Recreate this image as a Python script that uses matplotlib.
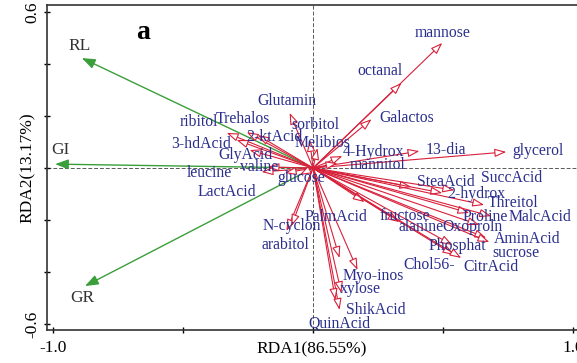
import matplotlib
matplotlib.use('Agg')
import matplotlib.pyplot as plt

plt.rcParams['font.family'] = ['Liberation Serif', 'DejaVu Serif']

# Metabolite loadings (RDA1, RDA2)
species = ['mannose', 'octanal', 'Galactos', '13-dia', 'glycerol', '4-Hydrox',
           'mannitol', 'sorbitol', 'Glutamin', 'Melibios', 'Trehalos', 'ribitol',
           '2-ktAcid', '3-hdAcid', 'GlyAcid', 'valine', 'leucine', 'LactAcid',
           'glucose', 'N-cyclon', 'arabitol', 'PalmAcid', 'Myo-inos', 'xylose',
           'ShikAcid', 'QuinAcid', 'SteaAcid', 'SuccAcid', '2-hydrox', 'Threitol',
           'Proline', 'MalcAcid', 'alanine', 'Oxoproln', 'fructose', 'Phosphat',
           'AminAcid', 'sucrose', 'Chol56-', 'CitrAcid']
rda1 = [0.497, 0.340, 0.225, 0.409, 0.743, 0.113,
        0.094, -0.013, -0.090, 0.017, -0.255, -0.332,
        -0.213, -0.294, -0.244, -0.175, -0.198, -0.109,
        -0.052, -0.102, -0.083, 0.102, 0.171, 0.109,
        0.102, 0.086, 0.378, 0.543, 0.497, 0.658,
        0.601, 0.685, 0.332, 0.639, 0.198, 0.536,
        0.666, 0.678, 0.543, 0.570]
rda2 = [0.481, 0.327, 0.188, 0.065, 0.062, 0.046,
        0.019, 0.108, 0.212, 0.077, 0.138, 0.135,
        0.127, 0.108, 0.069, 0.004, -0.015, -0.019,
        -0.027, -0.242, -0.223, -0.346, -0.392, -0.481,
        -0.546, -0.508, -0.073, -0.085, -0.096, -0.142,
        -0.173, -0.185, -0.208, -0.219, -0.131, -0.296,
        -0.269, -0.285, -0.335, -0.346]

# label offsets from the arrow tip, in pixels
label_dx = [0, -22, 35, 26, 32, 31,
            40, 6, -3, 5, -4, -28,
            17, -35, -4, -8, -52, -58,
            2, 5, -6, -4, 16, 19,
            36, 4, 35, 57, 34, 29,
            16, 49, 22, -7, 40, 5,
            41, 27, -25, 30]
label_dy = [10, 12, 1, 1, 1, 4,
            -2, 15, 12, 5, 13, 11,
            -2, -4, -5, 0, -1, -19,
            -3, 5, -19, 41, -6, 4,
            0, -23, 5, 12, -1, 2,
            -4, -1, -5, -2, -14, -1,
            -1, -11, -10, -9]

# Explanatory variables
env = ['RL', 'GI', 'GR']
env_rda1 = [-0.889, -0.992, -0.877]
env_rda2 = [0.423, 0.015, -0.454]
env_dx = [-2, 5, -3]
env_dy = [12, 14, -12]

red = '#d8203a'
navy = '#2b2f8c'
green = '#3a9e3a'

fig = plt.figure(figsize=(5.77, 3.63), dpi=100)
ax = fig.add_axes([0.0815, 0.0909, 0.9185, 0.8953])
ax.set_xlim(-1.023, 1.015)
ax.set_ylim(-0.623, 0.627)

ax.axhline(0, color='0.35', lw=0.7, ls=(0, (4, 2)), zorder=1)
ax.axvline(0, color='0.35', lw=0.7, ls=(0, (4, 2)), zorder=1)

for name, x, y, dx, dy in zip(species, rda1, rda2, label_dx, label_dy):
    ax.annotate('', xy=(x, y), xytext=(0, 0),
                arrowprops=dict(arrowstyle='-|>,head_length=0.7,head_width=0.25',
                                ec=red, fc='white', lw=0.8,
                                shrinkA=0, shrinkB=0, mutation_scale=10),
                zorder=3)
    ax.annotate(name, xy=(x, y), xytext=(dx, dy), textcoords='offset pixels',
                ha='center', va='center', fontsize=11.3, color=navy, zorder=4)

for name, x, y, dx, dy in zip(env, env_rda1, env_rda2, env_dx, env_dy):
    ax.annotate('', xy=(x, y), xytext=(0, 0),
                arrowprops=dict(arrowstyle='-|>,head_length=0.8,head_width=0.3',
                                color=green, lw=1.0,
                                shrinkA=0, shrinkB=0, mutation_scale=10),
                zorder=2)
    ax.annotate(name, xy=(x, y), xytext=(dx, dy), textcoords='offset pixels',
                ha='center', va='center', fontsize=12.5, color='#333333', zorder=4)

ax.text(-0.654, 0.523, 'a', fontsize=20, fontweight='bold', ha='center', va='center')

ax.set_xticks([-1.0, -0.5, 0, 0.5, 1.0])
ax.set_xticklabels(['-1.0', '', '', '', '1.0'])
ax.set_yticks([-0.6, -0.4, -0.2, 0, 0.2, 0.4, 0.6])
ax.set_yticklabels(['-0.6', '', '', '', '', '', '0.6'], rotation=90, va='center')
ax.tick_params(direction='inout', length=5, width=1, labelsize=12.5)
ax.tick_params(axis='y', pad=2.5)
ax.tick_params(axis='x', pad=5)

ax.set_xlabel('RDA1(86.55%)', fontsize=12.5)
ax.set_ylabel('RDA2(13.17%)', fontsize=12.5)
ax.xaxis.set_label_coords(0.5, -0.034)
ax.yaxis.set_label_coords(-0.022, 0.5)

for side in ['left', 'bottom', 'top']:
    ax.spines[side].set_linewidth(1.2)
    ax.spines[side].set_color('#333333')
ax.spines['right'].set_visible(False)

fig.savefig('out.png', dpi=100)
